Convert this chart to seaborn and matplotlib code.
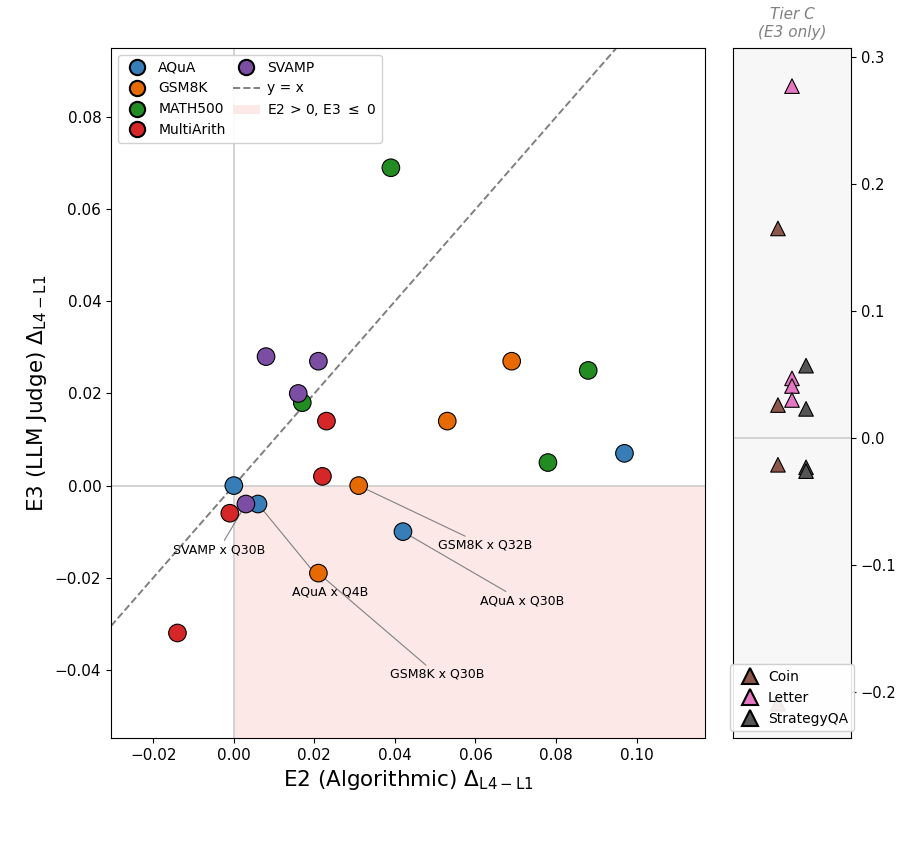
import numpy as np
import pandas as pd
import matplotlib
matplotlib.use("Agg")
import matplotlib.pyplot as plt
import seaborn as sns
from matplotlib.lines import Line2D
from matplotlib.patches import Patch

# Tier A/B : E2 vs E3 deltas (L4 - L1), one point per dataset x model
datasets = ["AQuA"] * 4 + ["GSM8K"] * 4 + ["MATH500"] * 4 + ["MultiArith"] * 4 + ["SVAMP"] * 4
models = ["Q8B", "Q4B", "Q30B", "Q32B",
          "Q32B", "Q30B", "Q4B", "Q8B",
          "Q30B", "Q4B", "Q32B", "Q8B",
          "Q30B", "Q32B", "Q4B", "Q8B",
          "Q4B", "Q32B", "Q8B", "Q30B"]
e2 = [0.000, 0.006, 0.042, 0.097,
      0.031, 0.021, 0.053, 0.069,
      0.039, 0.017, 0.088, 0.078,
      0.023, 0.022, -0.001, -0.014,
      0.008, 0.021, 0.016, 0.003]
e3 = [0.000, -0.004, -0.010, 0.007,
      0.000, -0.019, 0.014, 0.027,
      0.069, 0.018, 0.025, 0.005,
      0.014, 0.002, -0.006, -0.032,
      0.028, 0.027, 0.020, -0.004]

# Tier C : E3 only
tierc_task = ["Coin", "Coin", "Coin", "Coin",
              "Letter", "Letter", "Letter", "Letter",
              "StrategyQA", "StrategyQA", "StrategyQA", "StrategyQA"]
tierc_e3 = [0.165, 0.026, -0.021, -0.209,
            0.277, 0.047, 0.041, 0.030,
            0.057, 0.023, -0.023, -0.026]

# labelled points: (dataset, model, text offset in data units)
labelled = [("SVAMP", "Q30B", -0.0067, -0.0099),
            ("AQuA", "Q4B", 0.0178, -0.019),
            ("GSM8K", "Q30B", 0.0294, -0.022),
            ("GSM8K", "Q32B", 0.0313, -0.013),
            ("AQuA", "Q30B", 0.0295, -0.015)]

ds_colors = {"AQuA": "#377eb8", "GSM8K": "#e66a00", "MATH500": "#228b22",
             "MultiArith": "#d62728", "SVAMP": "#7b4ea3"}
task_colors = {"Coin": "#8c564b", "Letter": "#e377c2", "StrategyQA": "#555555"}

df = pd.DataFrame({"dataset": datasets, "model": models, "e2": e2, "e3": e3})
dfc = pd.DataFrame({"task": tierc_task, "e3": tierc_e3})

plt.rcParams["font.family"] = ["DejaVu Sans"]

fig = plt.figure(figsize=(9.11, 8.48), dpi=100)
ax = fig.add_axes([111 / 911, 1 - 738 / 848, 594 / 911, 690 / 848])
ax2 = fig.add_axes([733 / 911, 1 - 738 / 848, 118 / 911, 690 / 848])

xlim = (-0.0305, 0.117)
ylim = (-0.0548, 0.095)

ax.fill_between([0, xlim[1]], ylim[0], 0, color="#fde8e8", zorder=0, lw=0)
ax.axhline(0, color="#cccccc", lw=1.2, zorder=1)
ax.axvline(0, color="#cccccc", lw=1.2, zorder=1)
ax.axline((0, 0), slope=1, ls="--", color="gray", lw=1.4, zorder=2)

sns.scatterplot(data=df, x="e2", y="e3", hue="dataset", palette=ds_colors,
                s=160, edgecolor="black", linewidth=0.8, ax=ax, zorder=3, legend=False)

for d, m, dx, dy in labelled:
    r = df[(df.dataset == d) & (df.model == m)].iloc[0]
    ax.annotate(f"{d} x {m}", xy=(r.e2, r.e3), xytext=(r.e2 + dx, r.e3 + dy),
                ha="center", va="center", fontsize=9,
                arrowprops=dict(arrowstyle="-", color="gray", lw=0.8, shrinkA=0, shrinkB=0),
                zorder=2)

ax.set_xlim(xlim)
ax.set_ylim(ylim)
ax.set_xlabel(r"E2 (Algorithmic) $\Delta_{\mathrm{L4-L1}}$", fontsize=15.5)
ax.set_ylabel(r"E3 (LLM Judge) $\Delta_{\mathrm{L4-L1}}$", fontsize=15.5)
ax.tick_params(labelsize=11)

handles = [Line2D([], [], marker="o", ls="", markersize=11, markerfacecolor=c,
                  markeredgecolor="black", markeredgewidth=1.5, label=k)
           for k, c in ds_colors.items()]
handles.append(Line2D([], [], ls="--", color="gray", lw=1.4, label="y = x"))
handles.append(Patch(facecolor="#fde8e8", edgecolor="none", label=r"E2 > 0, E3 $\leq$ 0"))
ax.legend(handles=handles, loc="upper left", ncol=2, fontsize=10,
          handletextpad=0.5, columnspacing=0.5, framealpha=0.9)

# right panel
ax2.set_facecolor("#f7f7f7")
ax2.axhline(0, color="#cccccc", lw=1.2, zorder=1)
sns.stripplot(data=dfc, x="task", y="e3", hue="task", palette=task_colors,
              marker="^", size=10.5, jitter=False, edgecolor="black", linewidth=0.8,
              ax=ax2, legend=False, zorder=3)
ax2.set_xlim(-3.2, 5.2)
ax2.set_ylim(-0.236, 0.307)
ax2.set_xticks([])
ax2.set_xlabel("")
ax2.set_ylabel("")
ax2.yaxis.tick_right()
ax2.set_yticks([-0.2, -0.1, 0.0, 0.1, 0.2, 0.3])
ax2.tick_params(labelsize=10.5)
for s in ax2.spines.values():
    s.set_visible(True)
ax2.set_title("Tier C\n(E3 only)", fontsize=11, style="italic", color="gray", pad=8)

th = [Line2D([], [], marker="^", ls="", markersize=11, markerfacecolor=c,
             markeredgecolor="black", markeredgewidth=1.5, label=k)
      for k, c in task_colors.items()]
ax2.legend(handles=th, loc="lower center", fontsize=10, handletextpad=0.3,
           borderaxespad=0.5, framealpha=0.9)

fig.savefig("out.png", dpi=100)
